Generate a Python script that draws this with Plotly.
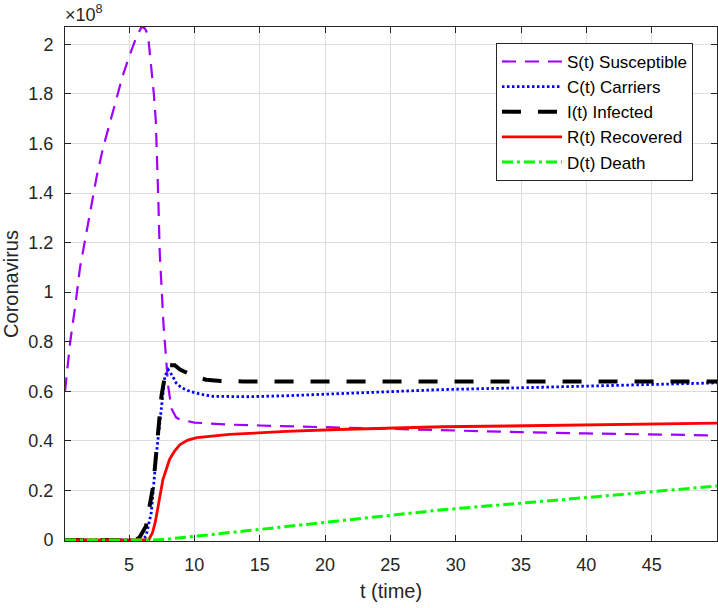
import plotly.graph_objects as go

# Values in units of 1e8
t_S = [0.1, 0.5, 0.9, 1.25, 1.6, 2.0, 2.5, 3.0, 3.5, 4.0, 4.5, 5.0, 5.5, 5.95, 6.2, 6.45, 6.7, 6.9, 7.05, 7.15,
       7.25, 7.35, 7.5, 7.65, 8.0, 8.25, 8.6, 8.9, 10, 12.5, 15, 20, 25, 30, 35, 40, 45, 50]
S = [0.60, 0.80, 0.95, 1.10, 1.20, 1.32, 1.46, 1.58, 1.68, 1.78, 1.87, 1.95, 2.02, 2.07, 2.065, 2.04, 1.92, 1.80, 1.69, 1.55,
     1.36, 1.16, 1.02, 0.86, 0.62, 0.53, 0.495, 0.486, 0.474, 0.466, 0.462, 0.455, 0.447, 0.440, 0.435, 0.430, 0.426, 0.422]

t_C = [0.1, 2, 4, 6.0, 6.3, 6.7, 7.1, 7.48, 7.74, 8.0, 8.3, 8.6, 9.0, 9.65, 10.5, 11.4, 14, 17, 21, 25, 29, 34, 39, 44, 50]
C = [0, 0, 0, 0, 0.016, 0.11, 0.35, 0.55, 0.66, 0.687, 0.665, 0.634, 0.615, 0.60, 0.588, 0.58, 0.578, 0.582, 0.591, 0.598,
     0.607, 0.613, 0.62, 0.627, 0.634]

t_I = [0.1, 2, 4, 5.5, 5.8, 6.3, 6.85, 7.23, 7.48, 7.74, 8.1, 8.5, 8.9, 10, 10.9, 12, 13.7, 20, 30, 40, 50]
I = [0, 0, 0, 0, 0.01, 0.056, 0.218, 0.42, 0.58, 0.66, 0.705, 0.705, 0.688, 0.66, 0.647, 0.642, 0.64, 0.64, 0.641, 0.641, 0.64]

t_R = [0.1, 2, 4, 6.5, 6.8, 7.0, 7.23, 7.6, 8.1, 8.5, 8.9, 9.5, 10.2, 11.5, 12.7, 14.2, 17, 21, 25, 29, 34, 39, 44, 50]
R = [0, 0, 0, 0, 0.03, 0.07, 0.137, 0.245, 0.325, 0.36, 0.385, 0.403, 0.413, 0.42, 0.426, 0.43, 0.438, 0.446, 0.452,
     0.457, 0.46, 0.463, 0.467, 0.472]

t_D = [0.1, 2, 4, 7, 8, 10, 14, 21, 29, 38, 44, 50]
D = [0, 0, 0, 0, 0.004, 0.014, 0.037, 0.077, 0.122, 0.162, 0.19, 0.218]

x_ticks = [5, 10, 15, 20, 25, 30, 35, 40, 45]
y_ticks = [0, 0.2, 0.4, 0.6, 0.8, 1.0, 1.2, 1.4, 1.6, 1.8, 2.0]
y_labels = ["0", "0.2", "0.4", "0.6", "0.8", "1", "1.2", "1.4", "1.6", "1.8", "2"]

FONT = "Liberation Sans, Arial, sans-serif"
fig = go.Figure()
fig.add_trace(go.Scatter(x=t_S, y=S, mode="lines", name="S(t) Susceptible", legendgroup="a",
                         line=dict(color="#A000FF", width=2.2, dash="14px,9px")))
fig.add_trace(go.Scatter(x=t_C, y=C, mode="lines", name="C(t) Carriers", legendgroup="b",
                         line=dict(color="#0000FF", width=2.8, dash="2.5px,2.5px")))
fig.add_trace(go.Scatter(x=t_I, y=I, mode="lines", name="I(t) Infected", legendgroup="c",
                         line=dict(color="#000000", width=4, dash="19px,17px")))
fig.add_trace(go.Scatter(x=t_R, y=R, mode="lines", name="R(t) Recovered", legendgroup="d",
                         line=dict(color="#FF0000", width=2.8)))
fig.add_trace(go.Scatter(x=t_D, y=D, mode="lines", name="D(t) Death", legendgroup="e",
                         line=dict(color="#00FF00", width=3, dash="11px,4px,3px,4px")))

axis_common = dict(showline=True, mirror="ticks", linecolor="#262626", linewidth=1,
                   ticks="inside", ticklen=6, tickcolor="#262626", gridcolor="#dedede",
                   zeroline=False, automargin=False,
                   tickfont=dict(family=FONT, size=18, color="#262626"))

fig.update_layout(
    width=718, height=608,
    margin=dict(l=65, r=1, t=27, b=67),
    paper_bgcolor="white", plot_bgcolor="white",
    font=dict(family=FONT, color="#262626"),
    xaxis=dict(range=[0.1, 50], tickvals=x_ticks, ticklabelstandoff=7,
               title=dict(text="t (time)", font=dict(size=20), standoff=10), **axis_common),
    yaxis=dict(range=[-0.004, 2.07], tickvals=y_ticks, ticktext=y_labels, ticklabelstandoff=7,
               title=dict(text="Coronavirus", font=dict(size=20), standoff=4), **axis_common),
    legend=dict(x=0.661, y=0.969, xanchor="left", yanchor="top", bgcolor="white",
                bordercolor="#262626", borderwidth=1, font=dict(family=FONT, size=17, color="#000000"),
                itemwidth=60, tracegroupgap=0),
    annotations=[dict(text="×10<sup>8</sup>", x=0, y=1, xref="paper", yref="paper", xanchor="left",
                      yanchor="bottom", showarrow=False, font=dict(family=FONT, size=18, color="#262626"),
                      xshift=-2, yshift=0)],
    showlegend=True,
)

fig.write_html("out.html", config={"displayModeBar": False},
               post_script="document.body.style.margin='0px';")
